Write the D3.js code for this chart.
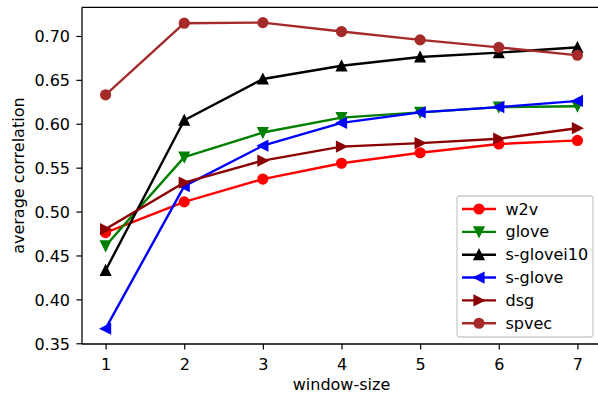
<!DOCTYPE html>
<html>
<head>
<meta charset="utf-8">
<script src="https://cdn.jsdelivr.net/npm/d3@7"></script>
<style>
  html, body { margin: 0; padding: 0; background: #fff; }
  svg { display: block; font-family: "DejaVu Sans", sans-serif; }
</style>
</head>
<body>
<svg id="chart" width="598" height="396"></svg>
<script>
const windowSizes = [1, 2, 3, 4, 5, 6, 7];
const w2v       = [0.476, 0.511, 0.537, 0.555, 0.567, 0.577, 0.581];
const glove     = [0.461, 0.562, 0.590, 0.607, 0.613, 0.619, 0.620];
const sglovei10 = [0.433, 0.604, 0.651, 0.666, 0.676, 0.681, 0.687];
const sglove    = [0.3666, 0.529, 0.575, 0.601, 0.613, 0.619, 0.626];
const dsg       = [0.480, 0.533, 0.558, 0.574, 0.578, 0.583, 0.595];
const spvec     = [0.633, 0.7145, 0.7152, 0.705, 0.6955, 0.687, 0.678];
const yTicks = [0.35, 0.40, 0.45, 0.50, 0.55, 0.60, 0.65, 0.70];
const seriesNames = ["w2v", "glove", "s-glovei10", "s-glove", "dsg", "spvec"];
const seriesValues = [w2v, glove, sglovei10, sglove, dsg, spvec];
const seriesColors = ["#ff0000", "#008000", "#000000", "#0000ff", "#8b0000", "#a52a2a"];
const seriesMarkers = ["circle", "down", "up", "left", "right", "circle"];

const svg = d3.select("#chart");
const L = 82, R = 601, T = 7.3, B = 344;

const allVals = seriesValues.flat();
const yMin = d3.min(allVals), yMax = d3.max(allVals);
const yPad = (yMax - yMin) * 0.05;
const x = d3.scaleLinear().domain([0.7, 7.3]).range([L, R]);
const y = d3.scaleLinear().domain([yMin - yPad, yMax + yPad]).range([B, T]);

const MS = 9.6, MEW = 1.6, LW = 2.4;

function markerPath(type) {
  const h = MS / 2;
  if (type === "circle") return null;
  if (type === "up")    return `M0,${-h}L${-h},${h}L${h},${h}Z`;
  if (type === "down")  return `M0,${h}L${-h},${-h}L${h},${-h}Z`;
  if (type === "left")  return `M${-h},0L${h},${-h}L${h},${h}Z`;
  if (type === "right") return `M${h},0L${-h},${-h}L${-h},${h}Z`;
}
function drawMarker(g, type, color, cx, cy) {
  if (type === "circle") {
    g.append("circle").attr("cx", cx).attr("cy", cy).attr("r", MS / 2)
      .attr("fill", color).attr("stroke", color).attr("stroke-width", MEW);
  } else {
    g.append("path").attr("d", markerPath(type))
      .attr("transform", `translate(${cx},${cy})`)
      .attr("fill", color).attr("stroke", color).attr("stroke-width", MEW)
      .attr("stroke-linejoin", "miter");
  }
}

// Axes
const xAxis = d3.axisBottom(x).tickValues(windowSizes).tickFormat(d3.format("d"))
  .tickSize(5.6).tickPadding(3);
const gx = svg.append("g").attr("transform", `translate(0,${B})`).call(xAxis);
gx.select(".domain").remove();
gx.selectAll("line").attr("stroke", "#000").attr("stroke-width", 1.2);
gx.selectAll("text").attr("font-size", 16).attr("fill", "#000")
  .attr("font-family", "DejaVu Sans").attr("dy", "0").attr("y", 25.5);

const yAxis = d3.axisLeft(y).tickValues(yTicks).tickFormat(d3.format(".2f"))
  .tickSize(5.6).tickPadding(6);
const gy = svg.append("g").attr("transform", `translate(${L},0)`).call(yAxis);
gy.select(".domain").remove();
gy.selectAll("line").attr("stroke", "#000").attr("stroke-width", 1.2);
gy.selectAll("text").attr("font-size", 16).attr("fill", "#000")
  .attr("font-family", "DejaVu Sans").attr("dy", "0.36em").attr("x", -12);

// Spines
const spine = svg.append("g").attr("fill", "none").attr("stroke", "#000").attr("stroke-width", 1.28);
spine.append("line").attr("x1", L).attr("x2", L).attr("y1", T).attr("y2", B);
spine.append("line").attr("x1", L).attr("x2", R).attr("y1", B).attr("y2", B);
spine.append("line").attr("x1", L).attr("x2", R).attr("y1", T).attr("y2", T);
spine.append("line").attr("x1", R).attr("x2", R).attr("y1", T).attr("y2", B);

// Labels
svg.append("text").attr("x", (L + R) / 2).attr("y", 389.5)
  .attr("text-anchor", "middle").attr("font-size", 16).attr("fill", "#000")
  .text("window-size");
svg.append("text").attr("transform", `translate(24,${(T + B) / 2}) rotate(-90)`)
  .attr("text-anchor", "middle").attr("font-size", 16).attr("fill", "#000")
  .text("average correlation");

// Series
const plot = svg.append("g");
const line = d3.line().x((d, i) => x(windowSizes[i])).y(d => y(d));
seriesValues.forEach((vals, si) => {
  const g = plot.append("g");
  g.append("path").datum(vals).attr("d", line)
    .attr("fill", "none").attr("stroke", seriesColors[si])
    .attr("stroke-width", LW).attr("stroke-linejoin", "round").attr("stroke-linecap", "square");
  vals.forEach((v, i) => drawMarker(g, seriesMarkers[si], seriesColors[si], x(windowSizes[i]), y(v)));
});

// Legend
const lg = svg.append("g");
lg.append("rect").attr("x", 457).attr("y", 196).attr("width", 136).attr("height", 141)
  .attr("rx", 3).attr("fill", "#fff").attr("fill-opacity", 0.8)
  .attr("stroke", "#cccccc").attr("stroke-width", 1.28);
seriesNames.forEach((name, si) => {
  const cy = 209 + si * 22.85;
  lg.append("line").attr("x1", 462).attr("x2", 496).attr("y1", cy).attr("y2", cy)
    .attr("stroke", seriesColors[si]).attr("stroke-width", LW);
  drawMarker(lg, seriesMarkers[si], seriesColors[si], 479, cy);
  lg.append("text").attr("x", 505.5).attr("y", cy + 5.6)
    .attr("font-size", 16).attr("fill", "#000").text(name);
});
</script>
</body>
</html>
